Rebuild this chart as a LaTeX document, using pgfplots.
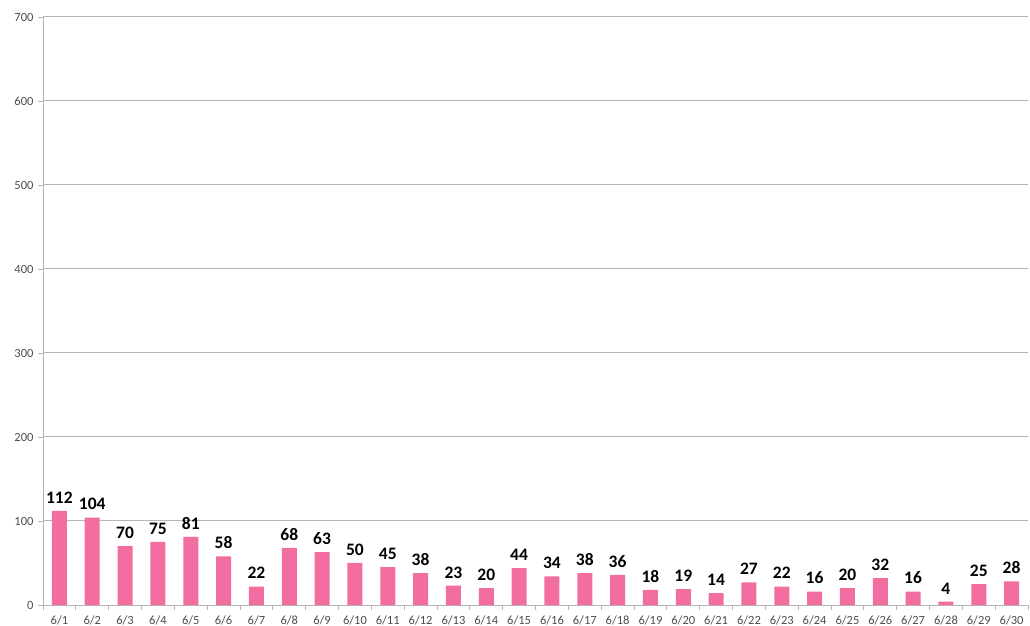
\documentclass[border=0pt]{standalone}
\usepackage{pgfplots}
\pgfplotsset{compat=1.18}
\usepackage{fontspec}
\setmainfont{Carlito}
\definecolor{barpink}{HTML}{F36EA0}
\definecolor{tickgray}{HTML}{4D4D4D}
\definecolor{gridgray}{HTML}{B5B5B5}
\begin{document}
\begin{tikzpicture}
\begin{axis}[
  scale only axis,
  width=985pt, height=588pt,
  xmin=-0.5, xmax=29.5,
  ymin=0, ymax=700,
  ytick={0,100,...,700},
  xtick={0,...,29},
  xticklabels={6/1,6/2,6/3,6/4,6/5,6/6,6/7,6/8,6/9,6/10,6/11,6/12,6/13,6/14,6/15,6/16,6/17,6/18,6/19,6/20,6/21,6/22,6/23,6/24,6/25,6/26,6/27,6/28,6/29,6/30},
  minor xtick={-0.5,0.5,...,29.5},
  axis x line*=bottom,
  axis y line*=left,
  axis line style={gridgray,-},
  major x tick style={draw=none},
  minor x tick style={gridgray, line width=0.8pt},
  minor tick length=5pt,
  y tick style={gridgray, line width=0.8pt},
  tick align=outside,
  major tick length=5pt,
  ymajorgrids,
  grid style={gridgray, line width=1pt},
  tick label style={font=\fontsize{12.5}{14}\selectfont, text=tickgray},
  /pgf/number format/assume math mode=true,
  yticklabel style={xshift=-1pt},
  xticklabel style={yshift=-2pt},
  clip=false,
]
\addplot[ybar, bar width=15pt, fill=barpink, draw=none,
  nodes near coords,
  every node near coord/.append style={font=\fontsize{17.5}{19}\selectfont\bfseries, text=black, yshift=4pt}]
coordinates {
(0,112) (1,104) (2,70) (3,75) (4,81) (5,58) (6,22) (7,68) (8,63) (9,50)
(10,45) (11,38) (12,23) (13,20) (14,44) (15,34) (16,38) (17,36) (18,18) (19,19)
(20,14) (21,27) (22,22) (23,16) (24,20) (25,32) (26,16) (27,4) (28,25) (29,28)
};
\end{axis}
\pgfresetboundingbox
\path (-43pt,-21pt) rectangle (987pt,605pt);
\end{tikzpicture}
\end{document}
